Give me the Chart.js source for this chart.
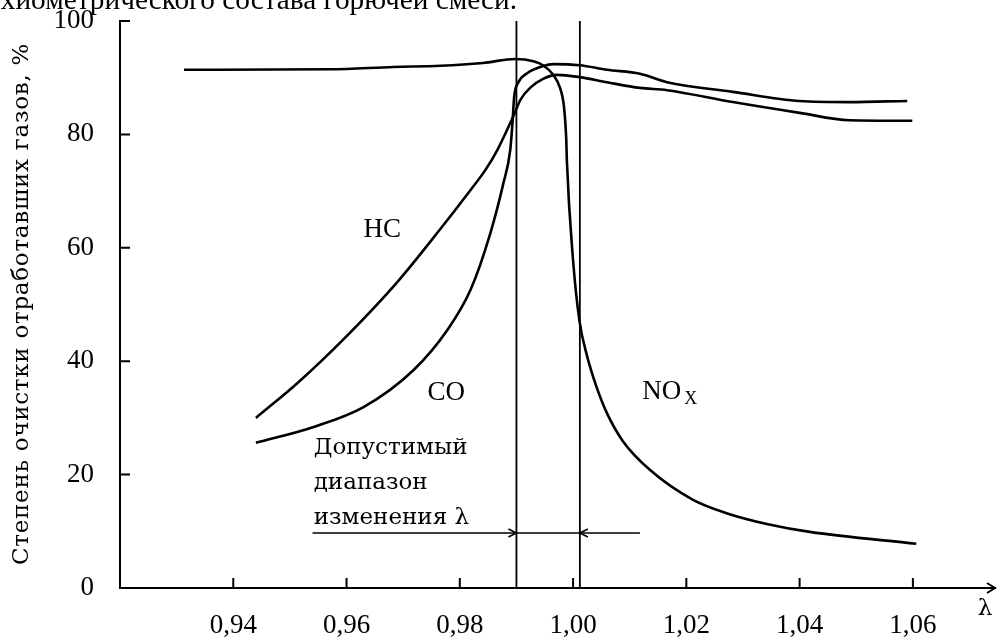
<!DOCTYPE html>
<html lang="ru">
<head>
<meta charset="utf-8">
<title>Степень очистки отработавших газов</title>
<script src="https://cdn.jsdelivr.net/npm/chart.js@4.4.1/dist/chart.umd.min.js"></script>
<style>
    html, body { margin: 0; padding: 0; background: #fff; }
    #wrap { width: 997px; height: 642px; position: relative; }
</style>
</head>
<body>
<div id="wrap"><canvas id="chart"></canvas></div>
<script>
// Values: λ and conversion efficiency, %
const noxLambda = [0.9313, 0.9572, 0.9683, 0.9766, 0.9841, 0.9898, 0.9930, 0.9947, 0.9965, 0.9977, 0.9984, 0.9988, 0.9989, 1.0000, 1.0011, 1.0025, 1.0042, 1.0060, 1.0088, 1.0136, 1.0211, 1.0271, 1.0342, 1.0418, 1.0606];
const noxValue  = [91.4, 91.5, 91.9, 92.1, 92.6, 93.3, 92.9, 92.2, 90.5, 88.2, 84.8, 79.0, 75.5, 57.8, 47.3, 40.8, 35.3, 30.8, 25.9, 20.8, 15.6, 13.2, 11.3, 9.9, 7.8];

const hcLambda = [0.9440, 0.9514, 0.9602, 0.9690, 0.9760, 0.9819, 0.9845, 0.9866, 0.9894, 0.9907, 0.9924, 0.9947, 0.9972, 1.0012, 1.0060, 1.0118, 1.0166, 1.0282, 1.0400, 1.0488, 1.0599];
const hcValue  = [30.0, 36.2, 44.6, 54.0, 62.6, 70.2, 73.7, 77.2, 83.1, 86.1, 88.2, 89.8, 90.5, 90.1, 89.2, 88.2, 87.8, 85.7, 83.8, 82.5, 82.4];

const coLambda = [0.9440, 0.9542, 0.9630, 0.9718, 0.9778, 0.9819, 0.9854, 0.9877, 0.9889, 0.9893, 0.9896, 0.9903, 0.9919, 0.9942, 0.9965, 1.0012, 1.0060, 1.0118, 1.0166, 1.0282, 1.0400, 1.0488, 1.0590];
const coValue  = [25.6, 28.4, 31.9, 38.4, 45.5, 52.6, 62.6, 71.4, 77.2, 82.0, 86.6, 89.1, 90.8, 91.9, 92.4, 92.2, 91.4, 90.7, 89.2, 87.5, 85.9, 85.7, 85.9];

// допустимый диапазон λ and the arrow line under it
const rangeLimits = [0.99, 1.0012];
const rangeLine = [0.954, 1.0118];
const rangeLevel = 9.7;

const xTickValues = [0.94, 0.96, 0.98, 1.00, 1.02, 1.04, 1.06];
const yTickValues = [0, 20, 40, 60, 80, 100];

const SERIF = '"DejaVu Serif", "Liberation Serif", serif';
const TIMES = '"Liberation Serif", "DejaVu Serif", serif';

const toPoints = (xs, ys) => xs.map((x, i) => ({ x: x, y: ys[i] }));

const curve = (label, xs, ys) => ({
    label: label,
    data: toPoints(xs, ys),
    borderColor: '#000',
    borderWidth: 2.6,
    pointRadius: 0,
    cubicInterpolationMode: 'monotone',
    fill: false
});

const straight = (label, pts, width) => ({
    label: label,
    data: pts,
    borderColor: '#000',
    borderWidth: width,
    pointRadius: 0,
    tension: 0,
    fill: false
});

// Text, inner tick marks and arrowheads
const decorations = {
    id: 'decorations',
    afterDraw(chart) {
        const ctx = chart.ctx;
        const xs = chart.scales.x;
        const ys = chart.scales.y;
        const area = chart.chartArea;
        ctx.save();
        ctx.strokeStyle = '#000';
        ctx.fillStyle = '#000';
        ctx.lineWidth = 2;

        // ticks pointing into the plot
        ctx.beginPath();
        xTickValues.forEach(v => {
            const px = xs.getPixelForValue(v);
            ctx.moveTo(px, area.bottom);
            ctx.lineTo(px, area.bottom - 10);
        });
        yTickValues.forEach(v => {
            const py = ys.getPixelForValue(v);
            ctx.moveTo(area.left, py);
            ctx.lineTo(area.left + 10, py);
        });
        ctx.stroke();

        // arrow at the end of the λ axis
        ctx.beginPath();
        ctx.moveTo(area.right - 8, area.bottom - 5);
        ctx.lineTo(area.right, area.bottom);
        ctx.lineTo(area.right - 8, area.bottom + 5);
        ctx.stroke();

        // arrowheads on the range line
        ctx.lineWidth = 1.6;
        const ay = ys.getPixelForValue(rangeLevel);
        const a1 = xs.getPixelForValue(rangeLimits[0]);
        const a2 = xs.getPixelForValue(rangeLimits[1]);
        ctx.beginPath();
        ctx.moveTo(a1 - 8, ay - 4);
        ctx.lineTo(a1, ay);
        ctx.lineTo(a1 - 8, ay + 4);
        ctx.moveTo(a2 + 8, ay - 4);
        ctx.lineTo(a2, ay);
        ctx.lineTo(a2 + 8, ay + 4);
        ctx.stroke();

        // curve labels
        ctx.textBaseline = 'middle';
        ctx.textAlign = 'left';
        const at = (text, lx, ly) => ctx.fillText(text, xs.getPixelForValue(lx), ys.getPixelForValue(ly));
        ctx.font = '27px ' + TIMES;
        at('HC', 0.963, 63.1);
        at('CO', 0.9743, 34.4);
        at('NO', 1.0122, 34.6);
        const noW = ctx.measureText('NO').width;
        ctx.font = '18px ' + TIMES;
        ctx.fillText('X', xs.getPixelForValue(1.0122) + noW + 3, ys.getPixelForValue(33.2));
        ctx.font = '23px ' + SERIF;
        at('Допустимый', 0.9542, 24.7);
        at('диапазон', 0.9542, 18.5);
        at('изменения λ', 0.9542, 12.3);

        // λ axis name
        ctx.textAlign = 'center';
        ctx.fillText('λ', area.right - 10, area.bottom + 21);

        // y axis title
        const title = 'Степень очистки отработавших газов, %';
        ctx.save();
        ctx.translate(22, 304);
        ctx.rotate(-Math.PI / 2);
        const w0 = ctx.measureText(title).width;
        ctx.letterSpacing = Math.max(-1, Math.min(3, (522 - w0) / title.length)) + 'px';
        ctx.fillText(title, 0, 0);
        ctx.restore();

        // tail of the page text above the figure
        ctx.textAlign = 'right';
        ctx.textBaseline = 'alphabetic';
        const seen = 'хиометрического состава горючей смеси.';
        ctx.font = '28px ' + TIMES;
        const k = 517 / ctx.measureText(seen).width;
        ctx.font = (28 * k).toFixed(1) + 'px ' + TIMES;
        ctx.fillText('сте' + seen, 517, 9);

        ctx.restore();
    }
};

new Chart(document.getElementById('chart'), {
    type: 'line',
    data: {
        datasets: [
            curve('NOx', noxLambda, noxValue),
            curve('HC', hcLambda, hcValue),
            curve('CO', coLambda, coValue),
            straight('lean limit', [{ x: rangeLimits[0], y: 0 }, { x: rangeLimits[0], y: 100 }], 1.8),
            straight('rich limit', [{ x: rangeLimits[1], y: 0 }, { x: rangeLimits[1], y: 100 }], 1.8),
            straight('range', [{ x: rangeLine[0], y: rangeLevel }, { x: rangeLine[1], y: rangeLevel }], 1.6)
        ]
    },
    options: {
        responsive: true,
        maintainAspectRatio: false,
        animation: false,
        layout: {
            padding: { top: 21, right: 2, left: 0, bottom: 0 }
        },
        plugins: {
            legend: { display: false },
            tooltip: { enabled: false }
        },
        scales: {
            x: {
                type: 'linear',
                min: 0.92,
                max: 1.0745,
                grid: { display: false },
                border: { display: true, color: '#000', width: 2 },
                afterBuildTicks: s => { s.ticks = xTickValues.map(v => ({ value: v })); },
                afterFit: s => {
                    s.height = 54;
                    s.paddingLeft = 0;
                    s.paddingRight = 0;
                },
                ticks: {
                    color: '#000',
                    padding: 14,
                    maxRotation: 0,
                    autoSkip: false,
                    font: { family: TIMES, size: 27 },
                    callback: v => v.toFixed(2).replace('.', ',')
                }
            },
            y: {
                type: 'linear',
                min: 0,
                max: 100,
                grid: { display: false },
                border: { display: true, color: '#000', width: 2 },
                afterBuildTicks: s => { s.ticks = yTickValues.map(v => ({ value: v })); },
                afterFit: s => {
                    s.width = 120;
                    s.paddingTop = 0;
                    s.paddingBottom = 0;
                },
                ticks: {
                    color: '#000',
                    padding: 18,
                    font: { family: TIMES, size: 27 },
                    callback: v => String(v)
                }
            }
        }
    },
    plugins: [decorations]
});
</script>
</body>
</html>
